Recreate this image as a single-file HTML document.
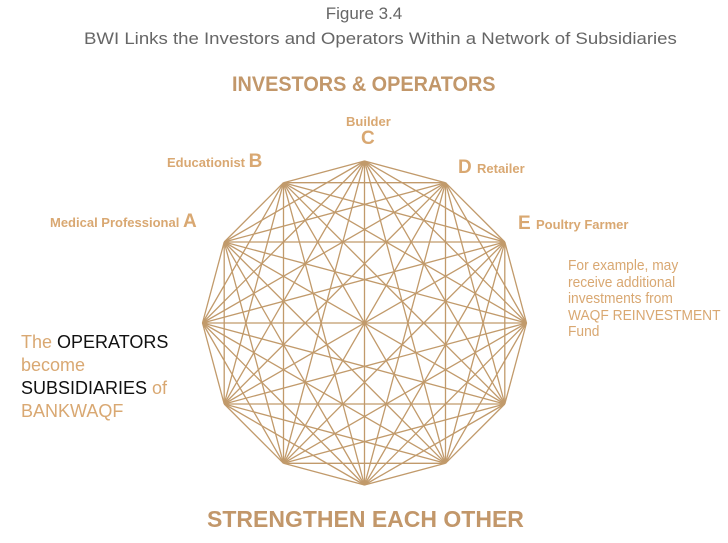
<!DOCTYPE html>
<html><head><meta charset="utf-8"><style>
body{margin:0;width:728px;height:543px;background:#fff;position:relative;overflow:hidden;font-family:"Liberation Sans",sans-serif}
.t{position:absolute;white-space:nowrap;transform-origin:0 0}
.g{color:#d9a872;font-weight:bold}
</style></head><body>
<div class="t" style="left:0;width:728px;top:4px;text-align:center;font-size:17px;color:#666;">Figure 3.4</div>
<div class="t" style="left:84px;top:29px;font-size:17px;color:#666;transform:scaleX(1.095)">BWI Links the Investors and Operators Within a Network of Subsidiaries</div>
<div class="t" style="left:232px;top:73px;font-size:21px;font-weight:bold;color:#c2976a;transform:scaleX(0.945)">INVESTORS &amp; OPERATORS</div>
<div class="t g" style="left:346px;top:114px;font-size:13px">Builder</div>
<div class="t g" style="left:361px;top:128px;font-size:19px">C</div>
<div class="t g" style="left:167px;top:151px;font-size:13px">Educationist <span style="font-size:19px">B</span></div>
<div class="t g" style="left:458px;top:157px;font-size:19px">D <span style="font-size:13px">Retailer</span></div>
<div class="t g" style="left:50px;top:211px;font-size:13px">Medical Professional <span style="font-size:19px">A</span></div>
<div class="t g" style="left:518px;top:213px;font-size:19px">E <span style="font-size:13px">Poultry Farmer</span></div>
<div class="t" style="left:568px;top:258px;font-size:14.5px;line-height:16.5px;color:#d9a872;transform:scaleX(0.95)">For example, may<br>receive additional<br>investments from<br>WAQF REINVESTMENT<br>Fund</div>
<div class="t" style="left:21px;top:331px;font-size:18px;line-height:23px;color:#d9a872">The <span style="color:#111">OPERATORS</span><br>become<br><span style="color:#111">SUBSIDIARIES</span> of<br>BANKWAQF</div>
<div class="t" style="left:207px;top:506px;font-size:23px;font-weight:bold;color:#c2976a">STRENGTHEN EACH OTHER</div>
<svg id="s" width="728" height="543" style="position:absolute;left:0;top:0"></svg>
<script>
var s=document.getElementById('s'),cx=364.5,cy=323,r=162,p=[],h='';
for(var i=0;i<12;i++){var a=i*Math.PI/6;p.push([cx+r*Math.sin(a),cy-r*Math.cos(a)]);}
for(var i=0;i<12;i++)for(var j=i+1;j<12;j++)h+='<line x1="'+p[i][0].toFixed(1)+'" y1="'+p[i][1].toFixed(1)+'" x2="'+p[j][0].toFixed(1)+'" y2="'+p[j][1].toFixed(1)+'"/>';
s.innerHTML='<g stroke="#c19a6b" stroke-width="1.3">'+h+'</g>';
</script>
</body></html>
